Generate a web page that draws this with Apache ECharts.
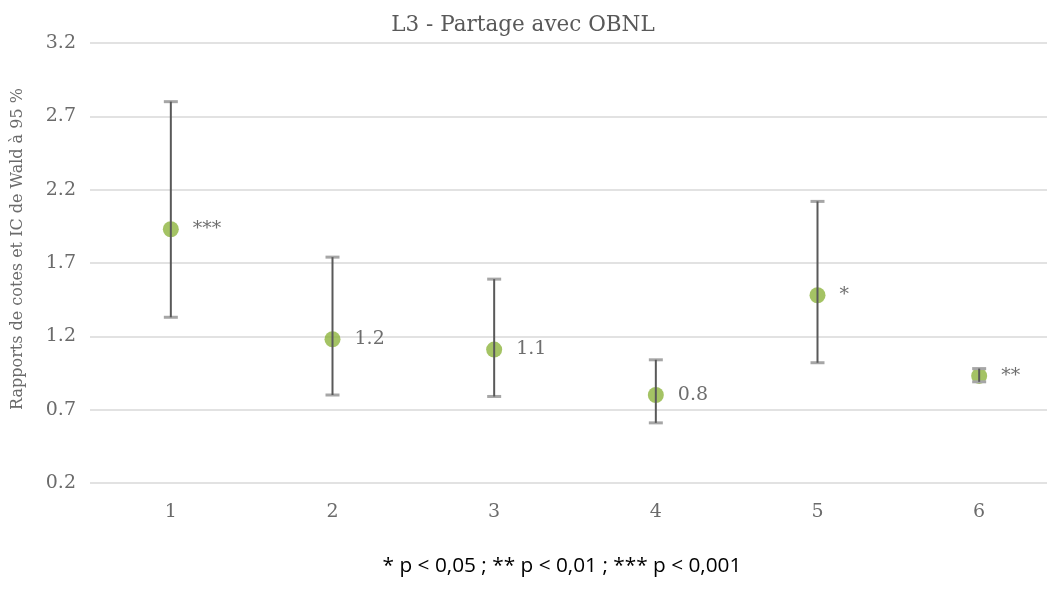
<!DOCTYPE html>
<html>
<head>
<meta charset="utf-8">
<script src="https://cdn.jsdelivr.net/npm/echarts@6/dist/echarts.min.js"></script>
<style>
  html, body { margin: 0; padding: 0; background: #ffffff; }
  #chart { width: 1047px; height: 598px; }
</style>
</head>
<body>
<div id="chart"></div>
<script>
// Odds ratios with 95 % Wald confidence intervals, one per model term
const categories = ['1', '2', '3', '4', '5', '6'];
const oddsRatios = [1.93, 1.18, 1.11, 0.80, 1.48, 0.93];
const ciUpper = [2.80, 1.74, 1.59, 1.04, 2.12, 0.98];
const ciLower = [1.33, 0.80, 0.79, 0.61, 1.02, 0.89];
const pointLabels = ['***', '1.2', '1.1', '0.8', '*', '**'];
const yTicks = { min: 0.2, max: 3.2, step: 0.5 };

const titleText = 'L3 - Partage avec OBNL';
const yAxisTitle = 'Rapports de cotes et IC de Wald à 95 %';
const footnote = '* p < 0,05 ; ** p < 0,01 ; *** p < 0,001';

const serif = 'DejaVu Serif';
const chart = echarts.init(document.getElementById('chart'), null, { renderer: 'canvas' });

const errorData = categories.map((c, i) => [i, ciUpper[i], ciLower[i]]);
const pointData = categories.map((c, i) => [i, oddsRatios[i]]);

function renderErrorBar(params, api) {
  const idx = api.value(0);
  const top = api.coord([idx, api.value(1)]);
  const bot = api.coord([idx, api.value(2)]);
  const half = 7;
  const capStyle = { stroke: '#a6a6a6', lineWidth: 3 };
  return {
    type: 'group',
    children: [
      { type: 'line', shape: { x1: top[0] - half, y1: top[1], x2: top[0] + half, y2: top[1] }, style: capStyle },
      { type: 'line', shape: { x1: bot[0] - half, y1: bot[1], x2: bot[0] + half, y2: bot[1] }, style: capStyle },
      { type: 'line', shape: { x1: top[0], y1: top[1], x2: bot[0], y2: bot[1] }, style: { stroke: '#595959', lineWidth: 2 } }
    ]
  };
}

chart.setOption({
  backgroundColor: '#ffffff',
  animation: false,
  title: {
    text: titleText,
    left: 518,
    top: 9,
    textAlign: 'center',
    textStyle: { fontFamily: serif, fontSize: 21.5, fontWeight: 'normal', color: '#595959' }
  },
  // the plot area runs past the right edge of the canvas
  grid: { left: 90, top: 43, width: 970, height: 440, containLabel: false, outerBoundsMode: 'none' },
  xAxis: {
    type: 'category',
    data: categories,
    boundaryGap: true,
    axisLine: { show: false },
    axisTick: { show: false },
    axisLabel: { margin: 20, fontFamily: serif, fontSize: 19, color: '#6b6b6b' },
    splitLine: { show: false }
  },
  yAxis: {
    type: 'value',
    min: yTicks.min,
    max: yTicks.max,
    interval: yTicks.step,
    axisLine: { show: false },
    axisTick: { show: false },
    axisLabel: {
      margin: 14,
      fontFamily: serif,
      fontSize: 19,
      color: '#6b6b6b',
      formatter: v => v.toFixed(1)
    },
    splitLine: { lineStyle: { color: '#d9d9d9', width: 1.5 } }
  },
  graphic: [
    {
      type: 'text',
      x: 18,
      y: 249,
      rotation: Math.PI / 2,
      style: {
        text: yAxisTitle,
        fontFamily: serif,
        fontSize: 16,
        fill: '#6b6b6b',
        align: 'center',
        verticalAlign: 'middle'
      }
    },
    {
      type: 'text',
      x: 562,
      y: 566,
      style: {
        text: footnote,
        fontFamily: 'Open Sans',
        fontSize: 20.8,
        fill: '#000000',
        align: 'center',
        verticalAlign: 'middle'
      }
    }
  ],
  series: [
    {
      type: 'scatter',
      data: pointData,
      symbol: 'circle',
      symbolSize: 16,
      z: 2,
      itemStyle: { color: '#8db43d' },
      label: {
        show: true,
        position: 'right',
        distance: 14,
        fontFamily: serif,
        fontSize: 19,
        color: '#4a4a4a',
        formatter: p => pointLabels[p.dataIndex]
      }
    },
    {
      type: 'custom',
      data: errorData,
      z: 3,
      renderItem: renderErrorBar
    }
  ]
});
</script>
</body>
</html>
